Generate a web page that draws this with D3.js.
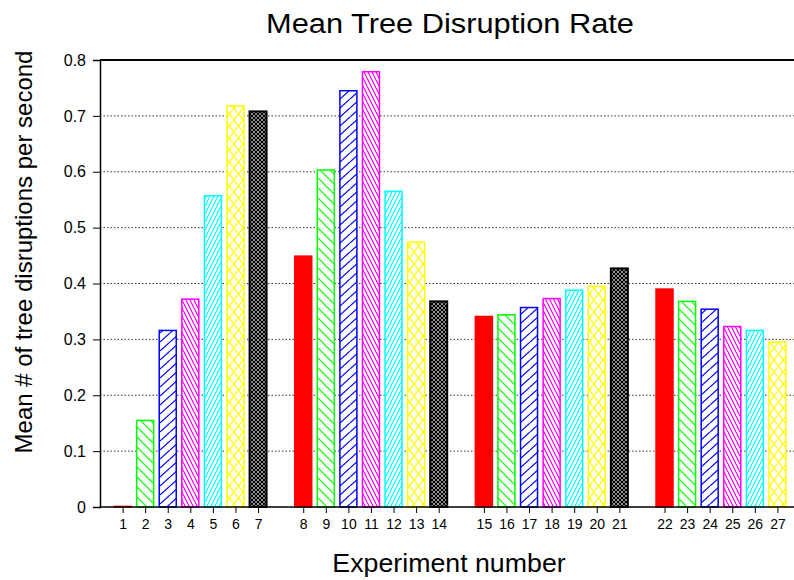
<!DOCTYPE html>
<meta charset="utf-8">
<script src="https://cdn.jsdelivr.net/npm/d3@7"></script>
<style>
body { margin: 0; background: #fff; }
text { font-family: "Liberation Sans", Arial, sans-serif; fill: #000; }
.grid line { stroke: #333; stroke-width: 1; stroke-dasharray: 1.5,2; }
</style>
<body>
<script>

// experiment numbers and mean disruption rates
var experiments = d3.range(1, 28);
var rates = [0.001, 0.155, 0.316, 0.372, 0.557, 0.718, 0.708,
             0.449, 0.603, 0.745, 0.779, 0.565, 0.474, 0.368,
             0.341, 0.344, 0.357, 0.373, 0.388, 0.395, 0.427,
             0.390, 0.368, 0.354, 0.323, 0.316, 0.295];
var yTicks = [0, 0.1, 0.2, 0.3, 0.4, 0.5, 0.6, 0.7, 0.8];
var barColors = ["#ff0000", "#00ff00", "#0000ff", "#ff00ff", "#00ffff", "#ffff00", "#000000"];
var patternIds = ["solid", "pGreen", "pBlue", "pMagenta", "pCyan", "pYellow", "pBlack"];

var width = 794, height = 580;
var margin = {top: 60, left: 100, bottom: 73};

// one empty slot between each group of 7
function slot(n) { return n + Math.floor((n - 1) / 7); }

var svg = d3.select("body").append("svg")
    .attr("width", width)
    .attr("height", height);

var x = d3.scaleLinear().domain([0, 31]).range([margin.left, 800]);
var y = d3.scaleLinear().domain([0, 0.8]).range([height - margin.bottom, margin.top]);
var barW = 17;

// hatch patterns
var defs = svg.append("defs");
function hatch(id, w, h, color, paths, sw) {
  var p = defs.append("pattern")
      .attr("id", id)
      .attr("patternUnits", "userSpaceOnUse")
      .attr("width", w).attr("height", h);
  p.append("rect").attr("width", w).attr("height", h).attr("fill", "#fff");
  paths.forEach(function(d) {
    p.append("path").attr("d", d)
      .attr("stroke", color).attr("stroke-width", sw || 1.2)
      .attr("fill", "none");
  });
}
hatch("pGreen", 10, 10, "#00ff00", ["M-5,-5L15,15", "M-5,5L5,15", "M5,-5L15,5"]);
hatch("pBlue", 10, 9, "#0000ff", ["M0,9L10,0", "M-10,9L0,0", "M10,9L20,0"]);
hatch("pMagenta", 4, 8, "#ff00ff", ["M0,0L4,8", "M-4,0L0,8", "M4,0L8,8"]);
hatch("pCyan", 4, 8, "#00ffff", ["M0,8L4,0", "M-4,8L0,0", "M4,8L8,0"]);
hatch("pYellow", 9, 12, "#ffff00", ["M0,0L9,12", "M0,12L9,0"]);
hatch("pBlack", 4, 4, "#000", ["M0,0L4,4", "M0,4L4,0"], 1.3);

// gridlines
svg.append("g").attr("class", "grid")
  .selectAll("line")
  .data(yTicks.filter(function(d) { return d > 0 && d < 0.8; }))
  .enter().append("line")
    .attr("x1", margin.left).attr("x2", width)
    .attr("y1", function(d) { return y(d); })
    .attr("y2", function(d) { return y(d); });

// bars
svg.append("g")
  .selectAll("rect")
  .data(experiments)
  .enter().append("rect")
    .attr("x", function(d) { return x(slot(d)) - barW / 2; })
    .attr("y", function(d) { return y(rates[d - 1]); })
    .attr("width", barW)
    .attr("height", function(d) { return y(0) - y(rates[d - 1]); })
    .attr("fill", function(d) {
      var i = (d - 1) % 7;
      return i == 0 ? barColors[0] : "url(#" + patternIds[i] + ")";
    })
    .attr("stroke", function(d) { return barColors[(d - 1) % 7]; })
    .attr("stroke-width", function(d) { return (d - 1) % 7 == 6 ? 2 : 1.5; });

// top border
svg.append("line")
  .attr("x1", margin.left).attr("x2", width)
  .attr("y1", y(0.8)).attr("y2", y(0.8))
  .attr("stroke", "#000").attr("stroke-width", 2);

// y axis
var yAxis = svg.append("g")
  .attr("transform", "translate(" + margin.left + ",0)")
  .call(d3.axisLeft(y).tickValues(yTicks).tickSize(7).tickPadding(7)
        .tickFormat(function(d) { return d == 0 ? "0" : d3.format(".1f")(d); }));
yAxis.select(".domain").attr("stroke-width", 1.5);
yAxis.selectAll("text").style("font-size", "16px").attr("font-family", null);

// x axis
var xAxis = svg.append("g")
  .attr("transform", "translate(0," + y(0) + ")")
  .call(d3.axisBottom(x).tickValues(experiments.map(slot)).tickSize(6).tickPadding(6)
        .tickFormat(function(d, i) { return experiments[i]; }));
xAxis.select(".domain").remove();
xAxis.append("line")
  .attr("x1", margin.left).attr("x2", width)
  .attr("stroke", "#000").attr("stroke-width", 1.5);
xAxis.selectAll("text").style("font-size", "14px").attr("font-family", null);

// titles (slightly wide lettering in the original)
svg.append("text")
  .attr("transform", "translate(450,33) scale(1.1,1)")
  .attr("text-anchor", "middle")
  .style("font-size", "28px")
  .text("Mean Tree Disruption Rate");

svg.append("text")
  .attr("transform", "translate(449,572) scale(1.07,1)")
  .attr("text-anchor", "middle")
  .style("font-size", "25px")
  .text("Experiment number");

svg.append("text")
  .attr("transform", "translate(32,252) rotate(-90)")
  .attr("text-anchor", "middle")
  .style("font-size", "24px")
  .text("Mean # of tree disruptions per second");

</script>
</body>
